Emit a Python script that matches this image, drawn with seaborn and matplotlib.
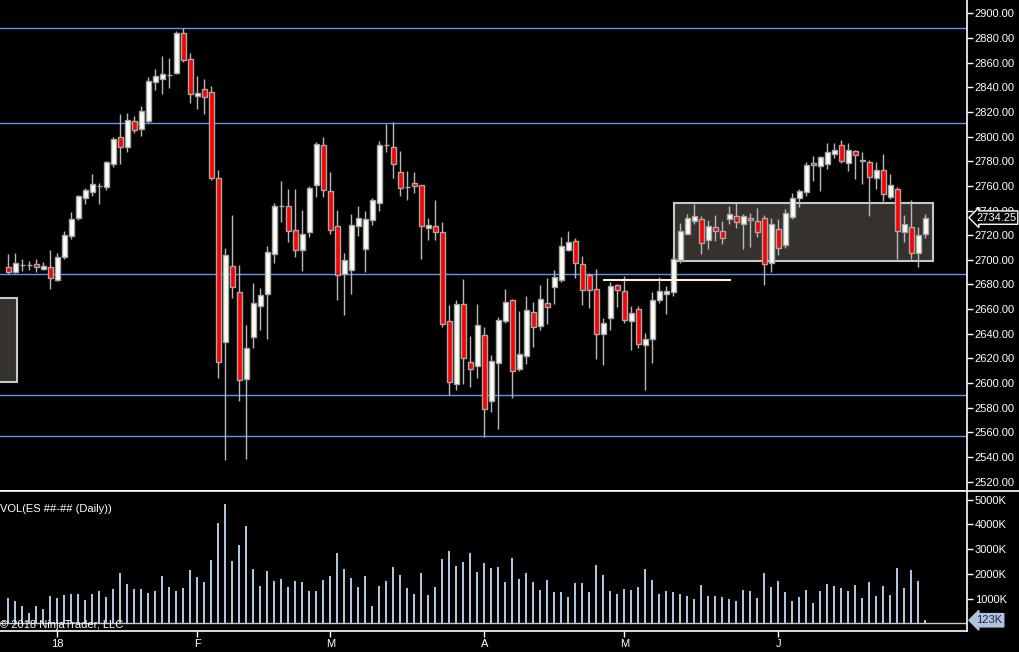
import numpy as np
import pandas as pd
import seaborn as sns
import matplotlib.pyplot as plt
import matplotlib.transforms as mtrans
from matplotlib.patches import Rectangle
from matplotlib.lines import Line2D

# daily ES bars, Dec 2017 - Jun 2018
opens = [2694.2, 2690.4, 2695.5, 2696.0, 2696.4, 2692.8, 2693.9, 2683.9, 2702.5, 2719.6,
         2734.2, 2750.4, 2755.3, 2760.0, 2759.3, 2778.0, 2799.4, 2791.8, 2812.4, 2806.4,
         2812.6, 2844.5, 2846.5, 2850.25, 2851.8, 2883.8, 2862.7, 2832.7, 2838.3, 2835.9,
         2766.1, 2633.1, 2694.7, 2673.6, 2603.0, 2637.2, 2662.3, 2672.0, 2704.5, 2744.0,
         2743.4, 2723.9, 2707.7, 2722.3, 2760.5, 2792.9, 2755.6, 2727.2, 2688.3, 2692.0,
         2727.7, 2709.0, 2732.5, 2746.3, 2793.5, 2791.3, 2771.0, 2759.0, 2762.1, 2760.5,
         2725.6, 2727.2, 2722.3, 2650.1, 2599.0, 2663.9, 2616.9, 2613.6, 2638.8, 2585.2,
         2616.1, 2650.1, 2667.2, 2611.2, 2621.7, 2657.9, 2646.6, 2665.2, 2677.7, 2683.4,
         2708.2, 2715.5, 2696.4, 2687.4, 2676.1, 2639.6, 2652.5, 2679.3, 2674.5, 2650.1,
         2659.9, 2630.6, 2635.5, 2667.2, 2672.0, 2673.6, 2700.1, 2720.7, 2731.3, 2732.9,
         2715.8, 2726.4, 2723.1, 2732.9, 2735.3, 2728.8, 2733.7, 2731.3, 2733.7, 2697.2,
         2724.8, 2711.8, 2735.1, 2750.4, 2755.3, 2778.3, 2775.9, 2777.5, 2785.6, 2792.9,
         2778.3, 2788.0, 2780.75, 2779.1, 2766.1, 2772.6, 2750.7, 2757.2, 2722.3, 2726.9,
         2705.3, 2720.7]
closes = [2690.4, 2697.2, 2695.75, 2695.75, 2694.4, 2695.0, 2685.0, 2702.3, 2720.1, 2733.1,
          2751.8, 2756.6, 2761.5, 2759.75, 2779.4, 2798.0, 2791.8, 2813.4, 2805.6, 2820.7,
          2845.1, 2849.1, 2850.5, 2850.0, 2883.8, 2862.4, 2834.3, 2835.1, 2831.9, 2766.1,
          2616.9, 2703.7, 2677.7, 2602.2, 2628.2, 2664.7, 2671.2, 2706.1, 2743.4, 2743.75,
          2723.1, 2707.7, 2720.7, 2758.0, 2793.7, 2756.9, 2723.9, 2687.4, 2699.6, 2728.0,
          2733.7, 2732.9, 2748.3, 2792.9, 2793.25, 2777.5, 2758.0, 2759.25, 2760.1, 2727.2,
          2728.0, 2722.3, 2647.7, 2601.1, 2663.9, 2620.1, 2611.2, 2646.9, 2578.7, 2617.7,
          2650.9, 2665.5, 2609.6, 2623.3, 2659.0, 2645.2, 2667.9, 2661.5, 2685.8, 2711.0,
          2714.2, 2697.2, 2675.3, 2675.3, 2639.6, 2648.5, 2678.5, 2675.3, 2650.9, 2656.6,
          2631.4, 2635.5, 2667.2, 2674.5, 2674.5, 2700.4, 2723.1, 2733.7, 2735.3, 2713.4,
          2727.2, 2723.1, 2717.5, 2736.9, 2730.4, 2735.3, 2732.1, 2722.3, 2696.4, 2728.8,
          2709.4, 2737.7, 2749.9, 2755.6, 2776.7, 2776.7, 2783.2, 2787.2, 2788.9, 2779.9,
          2788.9, 2784.8, 2780.5, 2767.0, 2772.6, 2753.1, 2760.5, 2723.1, 2728.8, 2705.3,
          2719.9, 2734.25]
highs = [2704.7, 2705.5, 2700.7, 2699.0, 2700.7, 2698.2, 2708.0, 2705.3, 2723.4, 2738.8,
         2752.6, 2758.0, 2769.6, 2762.1, 2780.4, 2799.9, 2818.3, 2819.1, 2816.9, 2824.8,
         2848.1, 2854.8, 2865.4, 2863.7, 2885.6, 2887.8, 2867.8, 2849.1, 2846.7, 2841.0,
         2772.9, 2709.6, 2736.4, 2695.8, 2647.1, 2681.2, 2677.1, 2711.2, 2746.1, 2763.9,
         2757.5, 2757.5, 2740.4, 2760.1, 2795.6, 2799.4, 2771.2, 2740.4, 2705.3, 2737.2,
         2743.4, 2739.4, 2750.2, 2796.4, 2810.2, 2811.6, 2788.3, 2772.1, 2771.2, 2760.5,
         2733.9, 2748.5, 2730.7, 2663.3, 2667.4, 2684.4, 2638.2, 2664.2, 2645.5, 2622.8,
         2653.9, 2676.3, 2668.2, 2658.5, 2670.6, 2665.8, 2679.6, 2685.0, 2691.5, 2718.5,
         2723.1, 2717.5, 2703.1, 2689.1, 2692.3, 2652.5, 2682.0, 2680.6, 2686.6, 2662.3,
         2662.3, 2640.4, 2673.6, 2685.8, 2678.5, 2704.5, 2729.9, 2737.2, 2745.5, 2735.6,
         2732.1, 2736.1, 2731.3, 2743.4, 2745.9, 2736.9, 2737.7, 2741.8, 2736.1, 2733.7,
         2733.1, 2741.0, 2753.9, 2757.5, 2779.1, 2784.2, 2784.0, 2794.8, 2794.8, 2797.2,
         2794.8, 2788.9, 2787.5, 2780.7, 2779.4, 2785.9, 2769.6, 2758.8, 2736.4, 2748.3,
         2726.4, 2736.9]
lows = [2688.5, 2689.6, 2691.2, 2691.7, 2690.4, 2691.7, 2676.6, 2682.8, 2700.9, 2716.9,
        2732.3, 2745.3, 2751.8, 2745.3, 2756.6, 2775.5, 2777.7, 2787.5, 2802.9, 2800.5,
        2810.7, 2837.8, 2834.8, 2839.6, 2850.5, 2860.7, 2827.5, 2822.1, 2818.6, 2764.5,
        2604.4, 2537.8, 2669.3, 2585.7, 2538.6, 2628.7, 2643.3, 2636.0, 2697.7, 2730.9,
        2714.7, 2702.5, 2691.2, 2718.8, 2751.2, 2751.2, 2721.2, 2667.6, 2655.5, 2672.5,
        2719.6, 2690.1, 2728.5, 2739.6, 2787.7, 2766.6, 2752.0, 2748.8, 2754.5, 2700.9,
        2716.3, 2716.3, 2645.7, 2590.1, 2594.6, 2599.5, 2597.0, 2604.4, 2555.9, 2576.8,
        2563.0, 2648.7, 2588.1, 2609.8, 2615.7, 2629.5, 2643.3, 2648.2, 2664.4, 2682.3,
        2707.2, 2685.5, 2663.6, 2661.2, 2619.8, 2614.9, 2643.3, 2662.0, 2648.7, 2627.1,
        2628.1, 2594.6, 2616.1, 2665.2, 2656.3, 2670.4, 2697.2, 2720.7, 2728.8, 2704.5,
        2708.5, 2715.0, 2712.6, 2728.8, 2725.6, 2708.5, 2710.2, 2718.3, 2679.3, 2689.9,
        2703.7, 2709.8, 2733.5, 2743.1, 2752.0, 2763.9, 2756.1, 2773.7, 2782.9, 2778.8,
        2772.3, 2765.8, 2761.7, 2735.8, 2757.7, 2747.5, 2749.6, 2700.9, 2714.7, 2700.9,
        2693.9, 2717.5]
volume_k = [1020, 900, 700, 420, 700, 580, 1100, 1020, 1140, 1180,
            1180, 940, 1180, 1300, 1060, 1380, 2030, 1590, 1380, 1380,
            1220, 1300, 1910, 1470, 1300, 1430, 2150, 1870, 1670, 2550,
            4050, 4850, 2510, 3160, 3920, 2190, 1510, 2110, 1710, 1790,
            1470, 1710, 1670, 1300, 1300, 1750, 1910, 2840, 2190, 1830,
            1470, 1910, 700, 1510, 1710, 2270, 1950, 1430, 1180, 2030,
            1140, 1470, 2590, 2920, 2310, 2470, 2840, 2070, 2430, 2230,
            2270, 1670, 2630, 1790, 2030, 1670, 1340, 1750, 1260, 1260,
            1060, 1630, 1630, 1260, 2350, 1950, 1300, 1180, 1380, 1340,
            1470, 2190, 1750, 1180, 1300, 1260, 1180, 1100, 980, 1550,
            1100, 1100, 1060, 980, 900, 1340, 1300, 1020, 2030, 1470,
            1710, 1260, 900, 1060, 1340, 820, 1300, 1590, 1510, 1430,
            1300, 1550, 1020, 1670, 1100, 1510, 1140, 2230, 1430, 2150,
            1710, 123]

month_pos = [7, 27, 46, 68, 88, 110]
month_labels = ["18", "F", "M", "A", "M", "J"]
level_lines = [2887.8, 2810.8, 2688.5, 2590.1, 2557.1]
price_ticks = list(range(2520, 2901, 20))
vol_ticks = [1000, 2000, 3000, 4000, 5000]
zone_box = [95.1, 132.06, 2698.8, 2745.9]      # x0, x1, y0, y1
old_box = [-4.0, 1.2, 2601.0, 2669.0]
cream_level = [85.0, 103.3, 2683.4]
last_price = 2734.25
last_vol = 123

sns.set_theme(style="dark", rc={"axes.facecolor": "black", "figure.facecolor": "black",
                                "axes.edgecolor": "white", "text.color": "white"})
plt.rcParams['font.family'] = ['Liberation Sans', 'DejaVu Sans']

W, H = 1019, 652
fig = plt.figure(figsize=(W / 100, H / 100), dpi=100)
ax = fig.add_axes([0, (H - 491) / H, 967 / W, 491 / H])
axv = fig.add_axes([0, (H - 631) / H, 967 / W, 140 / H])

x0 = -8.3 / 7
x1 = x0 + 967 / 7
n = len(opens)
idx = np.arange(n)
o = np.array(opens)
c = np.array(closes)
up = c >= o

# levels and boxes
for lv in level_lines:
    ax.axhline(lv, color='#6495ed', lw=1, zorder=1)
for b in (zone_box, old_box):
    ax.add_patch(Rectangle((b[0], b[2]), b[1] - b[0], b[3] - b[2], fc='#35312d',
                           ec='#c8c8c8', lw=1.5, zorder=2))
ax.hlines(cream_level[2], cream_level[0], cream_level[1], color='#fff2d6', lw=1.5, zorder=5)

# candles
ax.vlines(idx, lows, highs, color='#b8b8b8', lw=1, zorder=3)
body_lo = np.minimum(o, c)
body_h = np.maximum(np.abs(c - o), 0.3)
ax.bar(idx, body_h, bottom=body_lo, width=0.66,
       color=np.where(up, '#fffff2', '#ff0000'), edgecolor='#a8a8a8', linewidth=1, zorder=4)

ytop = 2900 + 13.3 / 1.2326
ax.set_xlim(x0, x1)
ax.set_ylim(ytop - 491 / 1.2326, ytop)
ax.set_xticks([])
ax.yaxis.tick_right()
ax.set_yticks(price_ticks)
ax.set_yticklabels([f"{p:.2f}" for p in price_ticks])

# volume
vol_df = pd.DataFrame({"bar": idx, "vol": volume_k})
sns.barplot(data=vol_df, x="bar", y="vol", ax=axv, color="#b0c4de", width=0.3,
            saturation=1, linewidth=0, native_scale=True, errorbar=None)
axv.axhline(0, color='#c8c8c8', lw=1, zorder=1)
axv.set_xlim(x0, x1)
axv.set_ylim(-7.7 / 24.7 * 1000, (623.3 - 491) / 24.7 * 1000)
axv.set_xlabel("")
axv.set_ylabel("")
axv.yaxis.tick_right()
axv.set_yticks(vol_ticks)
axv.set_yticklabels([f"{v}K" for v in vol_ticks])
axv.set_xticks(month_pos)
axv.set_xticklabels(month_labels)

for a in (ax, axv):
    a.grid(False)
    a.spines['left'].set_visible(False)
    a.spines['top'].set_visible(False)
    a.spines['right'].set_color('white')
    a.spines['bottom'].set_color('white')
    a.spines['right'].set_linewidth(1.2)
    a.spines['bottom'].set_linewidth(1.2)
    a.tick_params(axis='y', colors='white', labelsize=8, length=4, width=1, pad=1.5)
axv.tick_params(axis='x', colors='white', labelsize=8, length=4, width=1, pad=2, bottom=True)

fig.add_artist(Line2D([0, 1], [(H - 491) / H] * 2, color='white', lw=1.2))

axv.text(0.0, (631 - 509) / 140, "VOL(ES ##-## (Daily))", transform=axv.transAxes,
         color='white', fontsize=8, ha='left', va='center')
axv.text(0.0, (631 - 625) / 140, "\u00a9 2018 NinjaTrader, LLC", transform=axv.transAxes,
         color='white', fontsize=8, ha='left', va='center', zorder=6)

tp = mtrans.blended_transform_factory(ax.transAxes, ax.transData)
ax.text(976 / 967, last_price, f"{last_price:.2f}", transform=tp, color='white', fontsize=8,
        ha='left', va='center', zorder=10,
        bbox=dict(boxstyle='larrow,pad=0.15', fc='black', ec='white', lw=1))
tv = mtrans.blended_transform_factory(axv.transAxes, axv.transData)
axv.text(976 / 967, last_vol, f"{last_vol}K", transform=tv, color='#1c2a44', fontsize=8,
         ha='left', va='center', zorder=10,
         bbox=dict(boxstyle='larrow,pad=0.15', fc='#b0c4de', ec='#b0c4de', lw=1))

fig.savefig('out.png', dpi=100, facecolor='black')
